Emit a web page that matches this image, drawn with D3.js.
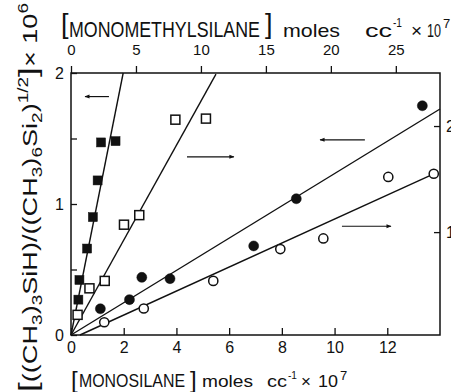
<!DOCTYPE html>
<html>
<head>
<meta charset="utf-8">
<script src="https://cdn.jsdelivr.net/npm/d3@7"></script>
<style>
  body { margin: 0; background: #fff; }
  svg { display: block; }
  text { font-family: "Liberation Sans", Arial, sans-serif; fill: #111; }
</style>
</head>
<body>
<svg id="chart"></svg>
<script>
// bottom scale = monosilane, top scale = monomethylsilane (both x 10^7 moles/cc)
const bottomTicks = [0, 2, 4, 6, 8, 10, 12];
const topTicks = [0, 5, 10, 15, 20, 25];
const leftTicks = [0, 0.5, 1, 1.5, 2];
const rightTicks = [1, 2];

// squares -> monosilane (bottom), circles -> monomethylsilane (top)
// filled -> left ratio axis, open -> right ratio axis
const filledSqX = [0.28, 0.32, 0.61, 0.83, 1.01, 1.14, 1.69];
const filledSqY = [0.27, 0.42, 0.66, 0.90, 1.18, 1.47, 1.48];
const openSqX = [0.25, 0.70, 1.28, 2.01, 2.59, 3.96, 5.12];
const openSqY = [0.22, 0.47, 0.54, 1.07, 1.16, 2.06, 2.07];
const filledCircX = [2.26, 4.50, 5.45, 7.62, 14.06, 17.34, 27.04];
const filledCircY = [0.20, 0.27, 0.44, 0.43, 0.68, 1.04, 1.75];
const openCircX = [2.56, 5.60, 10.95, 16.11, 19.42, 24.42, 27.92];
const openCircY = [0.15, 0.28, 0.54, 0.84, 0.94, 1.52, 1.55];

// hand drawn straight lines (end points)
const filledSqFit = [[0, 0], [1.98, 2.0]];
const openSqFit = [[0, 0.03], [5.5, 2.49]];
const filledCircFit = [[0, 0], [28.4, 1.725]];
const openCircFit = [[0.69, 0.03], [27.92, 1.55]];

// arrows telling which ratio axis belongs to a set (bottom x, left y units)
const arrowFrom = [[1.44, 1.82], [4.40, 1.36], [11.15, 1.49], [10.28, 0.83]];
const arrowTo = [[0.53, 1.82], [6.18, 1.36], [9.45, 1.49], [12.14, 0.83]];

const W = 451, H = 392;
const svg = d3.select("#chart").attr("width", W).attr("height", H)
  .attr("viewBox", [0, 0, W, H]);

const x = d3.scaleLinear([0, 14], [71, 440]);
const xTop = d3.scaleLinear([0, 28.4], [71, 440]);
const yL = d3.scaleLinear([0, 2], [335, 73]);
const yR = d3.scaleLinear([0.03, 2.5], [335, 73]);

// axes
const gB = svg.append("g").attr("transform", "translate(0,335)")
  .call(d3.axisBottom(x).tickValues(bottomTicks).tickSize(-7).tickPadding(7));
const gT = svg.append("g").attr("transform", "translate(0,73)")
  .call(d3.axisTop(xTop).tickValues(topTicks).tickSize(7).tickPadding(11));
const gL = svg.append("g").attr("transform", "translate(71,0)")
  .call(d3.axisLeft(yL).tickValues(leftTicks).tickSize(-6).tickPadding(7)
    .tickFormat(d => Number.isInteger(d) ? d : ""));
const gR = svg.append("g").attr("transform", "translate(440,0)")
  .call(d3.axisRight(yR).tickValues(rightTicks).tickSize(-6).tickPadding(6));

[gB, gT, gL, gR].forEach(g => {
  g.select(".domain").remove();
  g.selectAll(".tick line").attr("stroke", "#111").attr("stroke-width", 1.3);
  g.selectAll("text").attr("fill", "#111").attr("font-size", 16)
    .attr("font-family", "Liberation Sans, Arial, sans-serif");
});
gT.selectAll("text").attr("font-size", 15);

svg.append("rect")
  .attr("x", x(0)).attr("y", yL(2))
  .attr("width", x(14) - x(0)).attr("height", yL(0) - yL(2))
  .attr("fill", "none").attr("stroke", "#111").attr("stroke-width", 1.5);

// fitted lines
const fitLine = (pts, sx, sy) => svg.append("line")
  .attr("x1", sx(pts[0][0])).attr("y1", sy(pts[0][1]))
  .attr("x2", sx(pts[1][0])).attr("y2", sy(pts[1][1]))
  .attr("stroke", "#111").attr("stroke-width", 1.4);
fitLine(filledSqFit, x, yL);
fitLine(openSqFit, x, yR);
fitLine(filledCircFit, xTop, yL);
fitLine(openCircFit, xTop, yR);

// markers
const squares = (xs, ys, sx, sy, filled) => svg.append("g")
  .selectAll("rect").data(d3.zip(xs, ys)).join("rect")
  .attr("x", d => sx(d[0]) - 4.5).attr("y", d => sy(d[1]) - 4.5)
  .attr("width", 9).attr("height", 9)
  .attr("fill", filled ? "#111" : "#fff")
  .attr("stroke", "#111").attr("stroke-width", filled ? 0.5 : 1.5);
const circles = (xs, ys, sx, sy, filled) => svg.append("g")
  .selectAll("circle").data(d3.zip(xs, ys)).join("circle")
  .attr("cx", d => sx(d[0])).attr("cy", d => sy(d[1]))
  .attr("r", filled ? 5 : 4.6)
  .attr("fill", filled ? "#111" : "#fff")
  .attr("stroke", "#111").attr("stroke-width", filled ? 0.5 : 1.5);
squares(filledSqX, filledSqY, x, yL, true);
squares(openSqX, openSqY, x, yR, false);
circles(filledCircX, filledCircY, xTop, yL, true);
circles(openCircX, openCircY, xTop, yR, false);

// arrows
svg.append("defs").append("marker")
  .attr("id", "head").attr("viewBox", "0 0 10 10")
  .attr("refX", 9).attr("refY", 5)
  .attr("markerWidth", 6).attr("markerHeight", 5)
  .attr("markerUnits", "userSpaceOnUse")
  .attr("orient", "auto")
  .append("path").attr("d", "M0,1L10,5L0,9Z").attr("fill", "#111");
svg.append("g").selectAll("line").data(d3.zip(arrowFrom, arrowTo)).join("line")
  .attr("x1", d => x(d[0][0])).attr("y1", d => yL(d[0][1]))
  .attr("x2", d => x(d[1][0])).attr("y2", d => yL(d[1][1]))
  .attr("stroke", "#111").attr("stroke-width", 1.2)
  .attr("marker-end", "url(#head)");

// axis titles, piece by piece
function piece(t, px, py, size, len) {
  const el = svg.append("text").attr("x", px).attr("y", py)
    .attr("font-size", size).text(t);
  if (len) el.attr("textLength", len).attr("lengthAdjust", "spacingAndGlyphs");
  return el;
}
// top
piece("[", 61, 32.6, 27);
piece("MONOMETHYLSILANE", 69, 37.3, 22, 191);
piece("]", 265, 32.6, 27);
piece("moles", 283, 37.3, 19, 57);
piece("cc", 365, 37.3, 19, 27);
piece("-1", 393, 27, 12, 9);
piece("\u00d7", 411, 36.5, 19);
piece("10", 427, 37.3, 19, 14);
piece("7", 443, 28, 13);
// bottom
piece("[", 71, 388, 24);
piece("MONOSILANE", 79, 387.3, 19, 106);
piece("]", 190, 388, 24);
piece("moles", 202, 387.3, 17, 51);
piece("cc", 267, 387.3, 17, 20);
piece("-1", 288, 379, 11, 9);
piece("\u00d7", 301, 386.5, 17);
piece("10", 318, 387.3, 17, 20);
piece("7", 340, 380, 13);

// rotated y title
const yt = svg.append("g").attr("transform", "translate(37,0) rotate(-90)")
  .append("text").attr("x", -392).attr("y", 0).attr("font-size", 20)
  .attr("textLength", 389).attr("lengthAdjust", "spacingAndGlyphs");
const yParts = [
  { t: "[", size: 26 }, { t: "((CH" }, { t: "3", sub: 1 }, { t: ")" }, { t: "3", sub: 1 },
  { t: "SiH)/((CH" }, { t: "3", sub: 1 }, { t: ")" }, { t: "6", sub: 1 },
  { t: "Si" }, { t: "2", sub: 1 }, { t: ")" }, { t: "1/2", sup: 1 },
  { t: "]", size: 26 }, { t: "\u00d7 10" }, { t: "6", sup: 1 }
];
let shift = 0;
yParts.forEach(p => {
  const target = p.sub ? 5 : p.sup ? -9 : 0;
  yt.append("tspan").attr("dy", target - shift)
    .attr("font-size", p.size || (p.sub || p.sup ? 14 : 20)).text(p.t);
  shift = target;
});
</script>
</body>
</html>
